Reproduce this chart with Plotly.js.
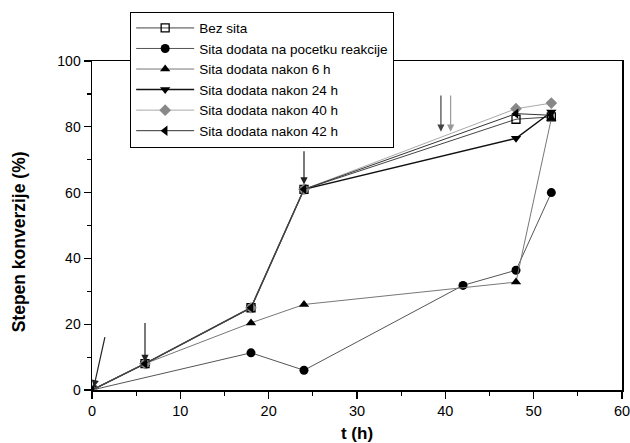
<!DOCTYPE html>
<html>
<head>
<meta charset="utf-8">
<script src="https://cdn.plot.ly/plotly-3.0.1.min.js"></script>
<style>html,body{margin:0;padding:0;background:#fff;}#chart{width:630px;height:443px;}</style>
</head>
<body>
<div id="chart"></div>
<script>
// Data
const seriesNames = [
  "Bez sita",
  "Sita dodata na pocetku reakcije",
  "Sita dodata nakon 6 h",
  "Sita dodata nakon 24 h",
  "Sita dodata nakon 40 h",
  "Sita dodata nakon 42 h"
];
const tBez = [0, 6, 18, 24, 48, 52];
const yBez = [0, 8, 25, 61, 82.3, 83];
const tPocetak = [0, 18, 24, 42, 48, 52];
const yPocetak = [0, 11.3, 6, 31.8, 36.4, 60];
const t6h = [0, 6, 18, 24, 48, 52];
const y6h = [0, 8, 20.4, 26, 32.8, 82.5];
const t24h = [0, 6, 18, 24, 48, 52];
const y24h = [0, 8, 25, 61, 76.5, 84.5];
const t40h = [0, 6, 18, 24, 48, 52];
const y40h = [0, 8, 25, 61, 85.5, 87.2];
const t42h = [0, 6, 18, 24, 48, 52];
const y42h = [0, 8, 25, 61, 84, 83.5];

// Arrows marking when sieves were added: [tail t, tail y], [head t, head y]
const arrowTails = [[1.5, 16.5], [6, 20.8], [24, 73], [39.5, 90], [40.6, 90]];
const arrowHeads = [[0.2, 0.8], [6, 8.5], [24, 62.5], [39.5, 78.5], [40.6, 78.5]];
const arrowColors = ["#222", "#222", "#222", "#444", "#999"];

const xTicks = [0, 10, 20, 30, 40, 50, 60];
const yTicks = [0, 20, 40, 60, 80, 100];
const xTitle = "t (h)";
const yTitle = "Stepen konverzije (%)";

const traces = [
  {x: tBez, y: yBez, name: seriesNames[0], line: {color: "#444", width: 1},
   marker: {symbol: "square-open", size: 8, color: "#000", line: {width: 1.3}}},
  {x: tPocetak, y: yPocetak, name: seriesNames[1], line: {color: "#555", width: 1},
   marker: {symbol: "circle", size: 9, color: "#000"}},
  {x: t6h, y: y6h, name: seriesNames[2], line: {color: "#777", width: 1},
   marker: {symbol: "triangle-up", size: 9, color: "#000"}},
  {x: t24h, y: y24h, name: seriesNames[3], line: {color: "#111", width: 1.5},
   marker: {symbol: "triangle-down", size: 9, color: "#000"}},
  {x: t40h, y: y40h, name: seriesNames[4], line: {color: "#aaa", width: 1},
   marker: {symbol: "diamond", size: 9, color: "#888"}},
  {x: t42h, y: y42h, name: seriesNames[5], line: {color: "#333", width: 1},
   marker: {symbol: "triangle-left", size: 9, color: "#000"}}
].map(t => Object.assign({type: "scatter", mode: "lines+markers"}, t));

const annotations = arrowTails.map((tail, i) => ({
  x: arrowHeads[i][0], y: arrowHeads[i][1],
  ax: tail[0], ay: tail[1],
  xref: "x", yref: "y", axref: "x", ayref: "y",
  text: "", showarrow: true, arrowhead: 2, arrowsize: 1.2, arrowwidth: 1.2,
  arrowcolor: arrowColors[i]
}));
// y-axis title as a rotated annotation (sits slightly below the plot centre in the reference)
annotations.push({
  text: "<b>" + yTitle + "</b>", textangle: -90, showarrow: false,
  xref: "paper", yref: "paper", x: -0.137, y: 0.45, xanchor: "center", yanchor: "middle",
  font: {size: 17.5, color: "#000"}
});

const layout = {
  width: 630, height: 443,
  margin: {l: 92, r: 8, t: 61, b: 53},
  paper_bgcolor: "#fff", plot_bgcolor: "#fff",
  font: {family: "Liberation Sans, Arial, sans-serif", size: 14, color: "#000"},
  showlegend: true,
  legend: {
    x: 0.072, y: 1.15, xanchor: "left", yanchor: "top",
    bgcolor: "#fff", bordercolor: "#000", borderwidth: 1,
    font: {size: 13.5}, tracegroupgap: 0, itemwidth: 58
  },
  xaxis: {
    range: [0, 60], tickvals: xTicks, ticktext: xTicks.map(String),
    showgrid: false, zeroline: false, showline: true, linecolor: "#000", linewidth: 1.5,
    mirror: true, ticks: "outside", ticklen: 7, tickwidth: 1.2, tickcolor: "#000",
    minor: {dtick: 5, ticks: "outside", ticklen: 4, tickcolor: "#000"},
    tickfont: {size: 14.5}, ticklabeloverflow: "allow",
    title: {text: "<b>" + xTitle + "</b>", font: {size: 17}, standoff: 10}
  },
  yaxis: {
    range: [0, 100], tickvals: yTicks, ticktext: yTicks.map(String),
    showgrid: false, zeroline: false, showline: true, linecolor: "#000", linewidth: 1.5,
    mirror: true, ticks: "outside", ticklen: 7, tickwidth: 1.2, tickcolor: "#000",
    minor: {dtick: 10, ticks: "outside", ticklen: 4, tickcolor: "#000"},
    tickfont: {size: 14}
  },
  annotations: annotations
};

Plotly.newPlot("chart", traces, layout, {staticPlot: true, displayModeBar: false});
</script>
</body>
</html>
